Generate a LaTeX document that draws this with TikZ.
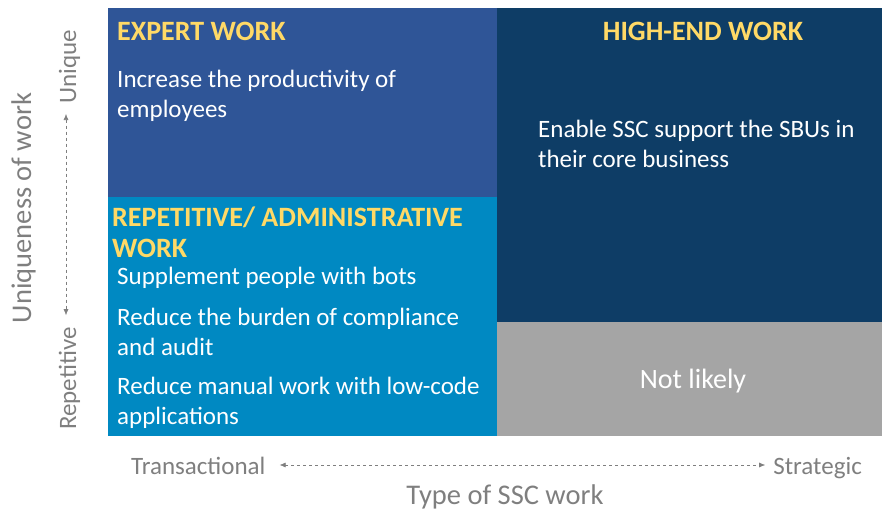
\documentclass[tikz,border=0pt]{standalone}
\usepackage{fontspec}
\setmainfont{Carlito}
\usetikzlibrary{arrows.meta}
\definecolor{expertc}{HTML}{2F5597}
\definecolor{repc}{HTML}{0089C2}
\definecolor{highc}{HTML}{0E3D66}
\definecolor{notc}{HTML}{A5A5A5}
\definecolor{headc}{HTML}{FFD966}
\definecolor{axc}{HTML}{7F7F7F}
\tikzset{
  quad/.style={draw=none, inner sep=0pt, outer sep=0pt, anchor=north west},
  head/.style={text=headc, font=\fontsize{28}{31}\selectfont\bfseries, inner sep=0pt},
  body/.style={text=white, font=\fontsize{25}{30}\selectfont, inner sep=0pt, anchor=base west, align=left},
  axlab/.style={text=axc, font=\fontsize{25}{28}\selectfont, inner sep=0pt},
  axtitle/.style={text=axc, font=\fontsize{28.5}{32}\selectfont, inner sep=0pt},
  axarrow/.style={draw=axc, dashed, line width=0.6pt, {Latex[length=6pt,width=5pt]}-{Latex[length=6pt,width=5pt]}}
}
\begin{document}
\begin{tikzpicture}[x=1pt,y=1pt]
\useasboundingbox (0,0) rectangle (882,511);
% quadrants
\node[quad, fill=expertc, minimum width=389pt, minimum height=189pt] (expert) at (108,503) {};
\node[quad, fill=repc, minimum width=389pt, minimum height=239pt] (rep) at (108,314) {};
\node[quad, fill=highc, minimum width=385pt, minimum height=314pt] (high) at (497,503) {};
\node[quad, fill=notc, minimum width=385pt, minimum height=114pt] (notl) at (497,189) {};
% expert
\node[head, anchor=base west] (h1) at (117,470) {EXPERT WORK};
\node[body] (e1) at (117,393) {Increase the productivity of\\employees};
% high-end
\node[head, anchor=base] (h2) at (703,470) {HIGH-END WORK};
\node[body] (g1) at (538,343) {Enable SSC support the SBUs in\\their core business};
% repetitive
\node[head, anchor=base west, align=left] (h3) at (112,253) {REPETITIVE/ ADMINISTRATIVE\\WORK};
\node[body] (r1) at (117,226) {Supplement people with bots};
\node[body] (r2) at (117,155) {Reduce the burden of compliance\\and audit};
\node[body] (r3) at (117,87) {Reduce manual work with low-code\\applications};
% not likely
\node[text=white, font=\fontsize{28}{32}\selectfont, inner sep=0pt] (nl) at (693,130) {Not likely};
% x axis
\node[axlab, anchor=base west] (trans) at (131,37) {Transactional};
\node[axlab, anchor=base east] (strat) at (862,37) {Strategic};
\draw[axarrow] ([xshift=14pt,yshift=9pt]trans.base east) coordinate (xa) -- ([xshift=-8pt]strat.base west |- xa) coordinate (xb);
\node[axtitle, anchor=base] (xt) at (505,7) {Type of SSC work};
% y axis
\node[axlab, rotate=90, anchor=base east] (uniq) at (76,481) {Unique};
\node[axlab, rotate=90, anchor=base west] (repet) at (76,81) {Repetitive};
\draw[axarrow] ([yshift=-10pt,xshift=-10pt]uniq.base west) coordinate (ya) -- ([yshift=12pt]repet.base east -| ya) coordinate (yb);
\node[axtitle, rotate=90, anchor=base] (yt) at (31,303) {Uniqueness of work};
\end{tikzpicture}
\end{document}
